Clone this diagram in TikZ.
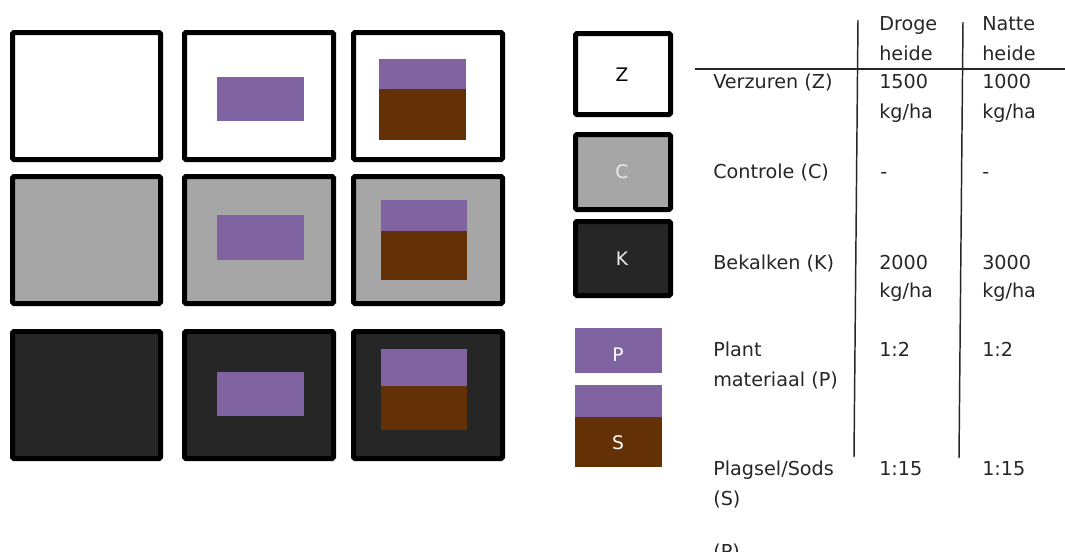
\documentclass[tikz,border=0pt]{standalone}
\usepackage{fontspec}
\setmainfont{DejaVu Sans}
\definecolor{plantpurple}{HTML}{8064A2}
\definecolor{sodbrown}{HTML}{643005}
\definecolor{ctrlgray}{HTML}{A6A6A6}
\definecolor{limedark}{HTML}{262626}
\tikzset{
  plotZ/.style={draw=black, line width=3.75pt, fill=white, rounded corners=1pt},
  plotC/.style={plotZ, fill=ctrlgray},
  plotK/.style={plotZ, fill=limedark},
  plant/.style={fill=plantpurple},
  sods/.style={fill=sodbrown},
  txt/.style={anchor=base west, inner sep=0pt, font=\fontsize{14.4}{22.5}\selectfont, text=black!85},
  lbl/.style={inner sep=0pt, font=\fontsize{14}{16}\selectfont},
  rule/.style={draw=black!85, line width=1.1pt}
}
\begin{document}
\begin{tikzpicture}[x=0.75pt,y=-0.75pt]
\useasboundingbox (0,0) rectangle (1065,551);
\clip (0,0) rectangle (1065,551);

% proefvlakken
\draw[plotZ] (12.5,32.5) rectangle (160.5,159.5);
\draw[plotZ] (184.5,32.5) rectangle (333.5,159.5);
\draw[plotZ] (353.5,32.5) rectangle (502.5,159.5);
\draw[plotC] (12.5,176.5) rectangle (160.5,303.5);
\draw[plotC] (184.5,176.5) rectangle (333.5,303.5);
\draw[plotC] (353.5,176.5) rectangle (502.5,303.5);
\draw[plotK] (12.5,331.5) rectangle (160.5,458.5);
\draw[plotK] (184.5,331.5) rectangle (333.5,458.5);
\draw[plotK] (353.5,331.5) rectangle (502.5,458.5);

% plantmateriaal
\path[plant] (217,77) rectangle (304,121);
\path[plant] (217,215) rectangle (304,260);
\path[plant] (217,372) rectangle (304,416);

% plagsel
\path[plant] (379,59) rectangle (466,89);
\path[sods] (379,89) rectangle (466,140);
\path[plant] (381,200) rectangle (467,231);
\path[sods] (381,231) rectangle (467,280);
\path[plant] (381,349) rectangle (467,386);
\path[sods] (381,386) rectangle (467,430);

% legenda
\draw[plotZ] (575.5,33.5) rectangle (670.5,114.5);
\draw[plotC] (575.5,134.5) rectangle (670.5,209.5);
\draw[plotK] (575.5,221.5) rectangle (670.5,295.5);
\path[plant] (575,328) rectangle (662,373);
\path[plant] (575,385) rectangle (662,417);
\path[sods] (575,417) rectangle (662,467);
\node[lbl] (legZ) at (622,75) {Z};
\node[lbl, text=white!92!black] (legC) at (622,172) {C};
\node[lbl, text=white!92!black] (legK) at (622,259) {K};
\node[lbl, text=white] (legP) at (618,355) {P};
\node[lbl, text=white] (legS) at (618,443) {S};

% tabel
\draw[rule] (695,69) -- (1065,69);
\draw[rule] (858,20) -- (854,457);
\draw[rule] (963,22) -- (959,458);

\node[txt] (droge) at (879,30) {Droge};
\node[txt] (drogeb) at (879,60) {heide};
\node[txt] (natte) at (982,30) {Natte};
\node[txt] (natteb) at (982,60) {heide};

\node[txt] (rowZ) at (713,88) {Verzuren (Z)};
\node[txt] (rowZa) at (879,88) {1500};
\node[txt] (rowZab) at (879,118) {kg/ha};
\node[txt] (rowZb) at (982,88) {1000};
\node[txt] (rowZbb) at (982,118) {kg/ha};

\node[txt] (rowC) at (713,178) {Controle (C)};
\node[txt] (rowCa) at (880,178) {-};
\node[txt] (rowCb) at (982,178) {-};

\node[txt] (rowK) at (713,269) {Bekalken (K)};
\node[txt] (rowKa) at (879,269) {2000};
\node[txt] (rowKab) at (879,297) {kg/ha};
\node[txt] (rowKb) at (982,269) {3000};
\node[txt] (rowKbb) at (982,297) {kg/ha};

\node[txt] (rowP) at (713,356) {Plant};
\node[txt] (rowPb) at (713,386) {materiaal (P)};
\node[txt] (rowPa) at (879,356) {1:2};
\node[txt] (rowPc) at (982,356) {1:2};

\node[txt] (rowS) at (713,475) {Plagsel/Sods};
\node[txt] (rowSb) at (713,505) {(S)};
\node[txt] (rowSa) at (879,475) {1:15};
\node[txt] (rowSc) at (982,475) {1:15};

\node[txt] (rest) at (713,558) {(P)};
\end{tikzpicture}
\end{document}
